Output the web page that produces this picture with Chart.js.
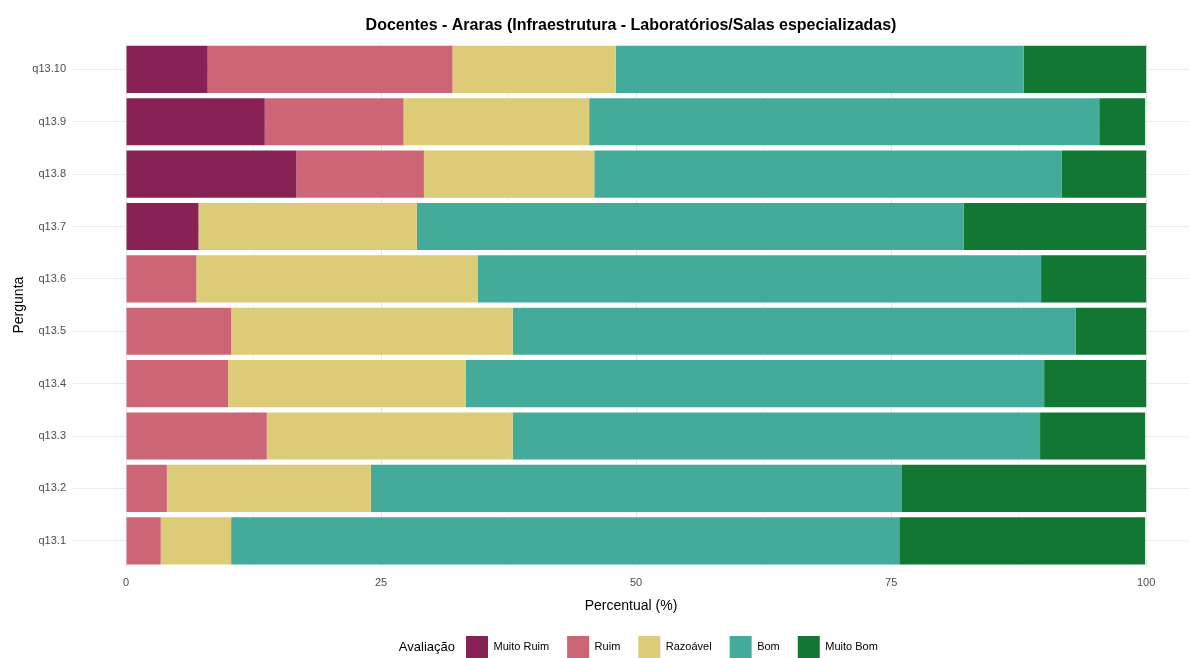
<!DOCTYPE html>
<html>
<head>
<meta charset="utf-8">
<script src="https://cdn.jsdelivr.net/npm/chart.js@4.4.0/dist/chart.umd.min.js"></script>
<style>
  html, body { margin: 0; padding: 0; background: #fff; }
  #wrap { width: 1189px; height: 658px; }
</style>
</head>
<body>
<div id="wrap"><canvas id="avalChart"></canvas></div>
<script>
// perguntas, de cima para baixo
const perguntas = ['q13.10', 'q13.9', 'q13.8', 'q13.7', 'q13.6', 'q13.5', 'q13.4', 'q13.3', 'q13.2', 'q13.1'];

// percentuais por avaliação (mesma ordem das perguntas)
const muitoRuim = [8.0, 13.6, 16.7, 7.1, 0, 0, 0, 0, 0, 0];
const ruim      = [24.0, 13.6, 12.5, 0, 6.9, 10.3, 10.0, 13.8, 4.0, 3.4];
const razoavel  = [16.0, 18.2, 16.7, 21.4, 27.6, 27.6, 23.3, 24.1, 20.0, 6.9];
const bom       = [40.0, 50.0, 45.8, 53.6, 55.2, 55.2, 56.7, 51.7, 52.0, 65.5];
const muitoBom  = [12.0, 4.5, 8.3, 17.9, 10.3, 6.9, 10.0, 10.3, 24.0, 24.1];

const xTicks = [0, 25, 50, 75, 100];

const FONT = "'Liberation Sans', Arial, sans-serif";

// legenda estilo ggplot: itens deslocados e "Avaliação" à esquerda
const legendaTitulo = {
    id: 'legendaTitulo',
    afterUpdate(chart) {
        const lg = chart.legend;
        if (!lg || !lg.legendHitBoxes.length) return;
        const dx = 466 - lg.legendHitBoxes[0].left;
        const dy = 636 - lg.legendHitBoxes[0].top;
        lg.left += dx; lg.right += dx;
        lg.top += dy; lg.bottom += dy;
        lg.legendHitBoxes.forEach(h => { h.left += dx; h.top += dy; });
    },
    afterDraw(chart) {
        const lg = chart.legend;
        if (!lg || !lg.legendHitBoxes.length) return;
        const hb = lg.legendHitBoxes[0];
        const ctx = chart.ctx;
        ctx.save();
        ctx.font = '13px ' + FONT;
        ctx.fillStyle = '#000';
        ctx.textAlign = 'right';
        ctx.textBaseline = 'middle';
        ctx.fillText('Avaliação', hb.left - 11, hb.top + hb.height / 2);
        ctx.restore();
    }
};

const ctx = document.getElementById('avalChart').getContext('2d');
const avalChart = new Chart(ctx, {
    type: 'bar',
    data: {
        labels: perguntas,
        datasets: [
            { label: 'Muito Ruim', data: muitoRuim, backgroundColor: '#882255' },
            { label: 'Ruim', data: ruim, backgroundColor: '#CC6677' },
            { label: 'Razoável', data: razoavel, backgroundColor: '#DDCC77' },
            { label: 'Bom', data: bom, backgroundColor: '#44AA99' },
            { label: 'Muito Bom', data: muitoBom, backgroundColor: '#117733' }
        ]
    },
    options: {
        indexAxis: 'y',
        responsive: true,
        maintainAspectRatio: false,
        animation: false,
        datasets: {
            bar: { categoryPercentage: 1.0, barPercentage: 0.9, borderWidth: 0 }
        },
        layout: { padding: { left: 11, right: 0, top: 11, bottom: -7 } },
        scales: {
            x: {
                stacked: true,
                min: -5.2,
                max: 104.2,
                afterBuildTicks: (axis) => {
                    axis.ticks = [0, 12.5, 25, 37.5, 50, 62.5, 75, 87.5, 100].map(v => ({ value: v }));
                },
                border: { display: false },
                grid: {
                    drawTicks: false,
                    color: (c) => (c.tick && xTicks.includes(c.tick.value)) ? '#e6e6e6' : '#f0f0f0',
                    lineWidth: (c) => (c.tick && xTicks.includes(c.tick.value)) ? 1 : 0.8
                },
                ticks: {
                    autoSkip: false,
                    maxRotation: 0,
                    padding: 9,
                    color: '#4d4d4d',
                    font: { family: FONT, size: 11 },
                    callback: (v) => xTicks.includes(v) ? String(v) : ''
                },
                title: {
                    display: true,
                    text: 'Percentual (%)',
                    color: '#000',
                    font: { family: FONT, size: 14 },
                    padding: { top: 0, bottom: 0 }
                }
            },
            y: {
                stacked: true,
                border: { display: false },
                afterFit: (scale) => { scale.width = 62; },
                grid: {
                    offset: false,
                    drawTicks: false,
                    color: '#ebebeb'
                },
                ticks: {
                    padding: 7,
                    color: '#4d4d4d',
                    font: { family: FONT, size: 11 }
                },
                title: {
                    display: true,
                    text: 'Pergunta',
                    color: '#000',
                    font: { family: FONT, size: 14 },
                    padding: { top: 0, bottom: 0 }
                }
            }
        },
        plugins: {
            title: {
                display: true,
                text: 'Docentes - Araras (Infraestrutura - Laboratórios/Salas especializadas)',
                color: '#000',
                fullSize: false,
                font: { family: FONT, size: 16, weight: 'bold' },
                padding: { top: 5, bottom: 8 }
            },
            legend: {
                display: true,
                position: 'bottom',
                labels: {
                    boxWidth: 22,
                    boxHeight: 22,
                    padding: 18,
                    color: '#000',
                    font: { family: FONT, size: 11 }
                }
            },
            tooltip: { enabled: false }
        }
    },
    plugins: [legendaTitulo]
});
</script>
</body>
</html>
